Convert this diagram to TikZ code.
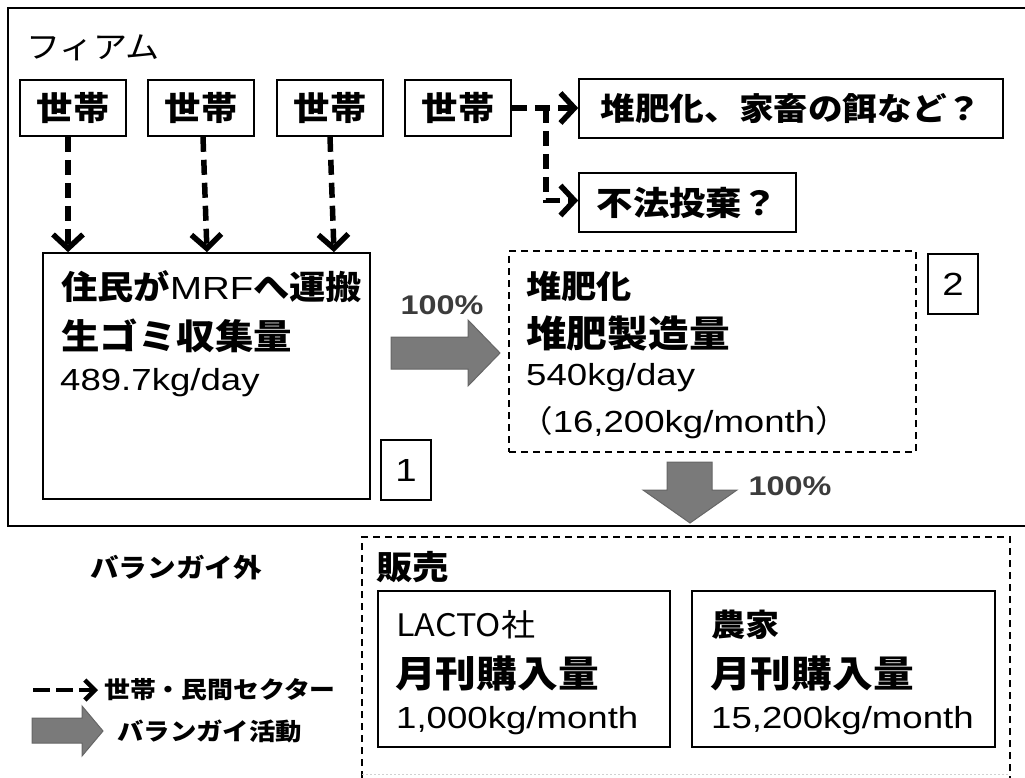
\documentclass[tikz,border=0pt]{standalone}
\usepackage{fontspec}
\setmainfont{Liberation Sans}[FakeStretch=1.2]
\newfontfamily\cjk{Noto Sans CJK JP}[FakeStretch=1.1]
\usetikzlibrary{arrows.meta}
\definecolor{arrowgray}{HTML}{7A7A7A}
\definecolor{arrowedge}{HTML}{666666}
\definecolor{pcttext}{HTML}{3C3C3C}
\newcommand{\fs}[1]{\fontsize{#1}{#1}\selectfont}
\begin{document}
\begin{tikzpicture}[x=1pt,y=-1pt,
  box/.style={draw, line width=1.6pt, inner sep=0pt},
  dbox/.style={draw, line width=1.4pt, dash pattern=on 7pt off 5pt, inner sep=0pt},
  txt/.style={inner sep=0pt, anchor=west},
  flow/.style={line width=5.5pt, dash pattern=on 15pt off 8pt,
    -{Straight Barb[length=14pt,width=30pt,line width=5.5pt]}},
  flowsmall/.style={line width=4.5pt, dash pattern=on 17pt off 6pt,
    -{Straight Barb[length=10pt,width=20pt,line width=4.5pt]}},
  blockarrow/.style={fill=arrowgray, draw=arrowedge, line width=1pt, line join=miter},
  pct/.style={inner sep=0pt, text=pcttext, font=\bfseries\fs{27}}
]
\useasboundingbox (0,0) rectangle (1025,778);
\fill[white] (0,0) rectangle (1025,778);

% outer frame (right edge lies beyond the page)
\draw[line width=2pt] (1030,8) -- (8,8) -- (8,526) -- (1030,526);

% title
\node[txt, font={\cjk\fs{31}}] (firm) at (26,48) {フィアム};

% households
\node[box, minimum width=106pt, minimum height=56pt, font={\cjk\bfseries\fs{33}}] (h1) at (73,108) {世帯};
\node[box, minimum width=106pt, minimum height=56pt, font={\cjk\bfseries\fs{33}}] (h2) at (201,108) {世帯};
\node[box, minimum width=106pt, minimum height=56pt, font={\cjk\bfseries\fs{33}}] (h3) at (330,108) {世帯};
\node[box, minimum width=106pt, minimum height=56pt, font={\cjk\bfseries\fs{33}}] (h4) at (458,108) {世帯};

% other destinations
\node[box, minimum width=424pt, minimum height=59pt, font={\cjk\bfseries\fs{31.5}}] (t1) at (791,108.5) {堆肥化、家畜の餌など？};
\node[box, minimum width=217pt, minimum height=59pt, font={\cjk\bfseries\fs{33}}] (t2) at (687.5,202.5) {不法投棄？};

% box 1
\node[box, minimum width=327pt, minimum height=246pt] (b1) at (206.5,376) {};
\node[txt, font={\cjk\bfseries\fs{33}}] (b1a) at (61,287) {住民が{\rmfamily\mdseries\fs{32}MRF}へ運搬};
\node[txt, font={\cjk\bfseries\fs{35}}] (b1b) at (61,336) {生ゴミ収集量};
\node[txt, font=\fs{30.5}] (b1c) at (60,383) {489.7kg/day};
\node[box, minimum width=50pt, minimum height=60pt, font=\fs{32}] (n1) at (406,470) {1};

% box 2
\node[dbox, minimum width=407pt, minimum height=201pt] (b2) at (712.5,351.5) {};
\node[txt, font={\cjk\bfseries\fs{32}}] (b2a) at (526,286) {堆肥化};
\node[txt, font={\cjk\bfseries\fs{37}}] (b2b) at (526,333) {堆肥製造量};
\node[txt, font=\fs{30.5}] (b2c) at (526,378) {540kg/day};
\node[txt, font=\fs{30.5}] (b2d) at (519,423) {{\cjk （}16,200kg/month{\cjk ）}};
\node[box, minimum width=50pt, minimum height=60pt, font=\fs{32}] (n2) at (953,284) {2};

% dashed household flows
\draw[flow] ([xshift=-5pt]h1.south) -- ([xshift=-5pt]h1.south |- b1.north);
\draw[flow] ([xshift=2pt]h2.south) -- ([xshift=6pt]h2.south |- b1.north);
\draw[flow] (h3.south) -- ([xshift=4pt]h3.south |- b1.north);
\draw[flow] (h4.east) -- (h4.east -| t1.west);
\draw[flow] ([xshift=34pt]h4.east) |- ([yshift=2pt]t2.west);

% block arrows (Barangay activity)
\fill[blockarrow] (391,337) -- (468,337) -- (468,320) -- (500,353) -- (468,386) -- (468,369) -- (391,369) -- cycle;
\node[pct] (p1) at (442,305) {100\%};
\fill[blockarrow] (667,462) -- (712,462) -- (712,490) -- (737,490) -- (690,523) -- (643,490) -- (667,490) -- cycle;
\node[pct] (p2) at (790,486) {100\%};

% outside barangay
\node[font={\cjk\bfseries\fs{26}}, inner sep=0pt] (outside) at (176,568) {バランガイ外};

% sales area
\draw[line width=1.4pt, dash pattern=on 7pt off 5pt] (362,790) -- (362,537) -- (1010,537) -- (1010,790);
\draw[line width=1pt, black!18, dash pattern=on 2pt off 2pt] (362,774) -- (1010,774);
\node[txt, font={\cjk\bfseries\fs{33}}] (sales) at (376,567) {販売};

\node[box, minimum width=292pt, minimum height=156pt] (c1) at (524,669) {};
\node[txt, font={\cjk\fs{31}}] (c1a) at (396,625) {LACTO社};
\node[txt, font={\cjk\bfseries\fs{37}}] (c1b) at (395,673) {月刊購入量};
\node[txt, font=\fs{30.5}] (c1c) at (396,721) {1,000kg/month};

\node[box, minimum width=303pt, minimum height=156pt] (c2) at (843.5,669) {};
\node[txt, font={\cjk\bfseries\fs{31}}] (c2a) at (711,625) {農家};
\node[txt, font={\cjk\bfseries\fs{37}}] (c2b) at (710,673) {月刊購入量};
\node[txt, font=\fs{30.5}] (c2c) at (711,721) {15,200kg/month};

% legend
\coordinate (l1s) at (33,690);
\coordinate (l1e) at (98,690);
\draw[flowsmall] (l1s) -- (l1e);
\node[txt, font={\cjk\bfseries\fs{23.5}}] (leg1) at (104,690) {世帯・民間セクター};
\fill[blockarrow] (32,718) -- (82,718) -- (82,706) -- (103,731) -- (82,756) -- (82,743) -- (32,743) -- cycle;
\node[txt, font={\cjk\bfseries\fs{24}}] (leg2) at (117,731) {バランガイ活動};
\end{tikzpicture}
\end{document}
